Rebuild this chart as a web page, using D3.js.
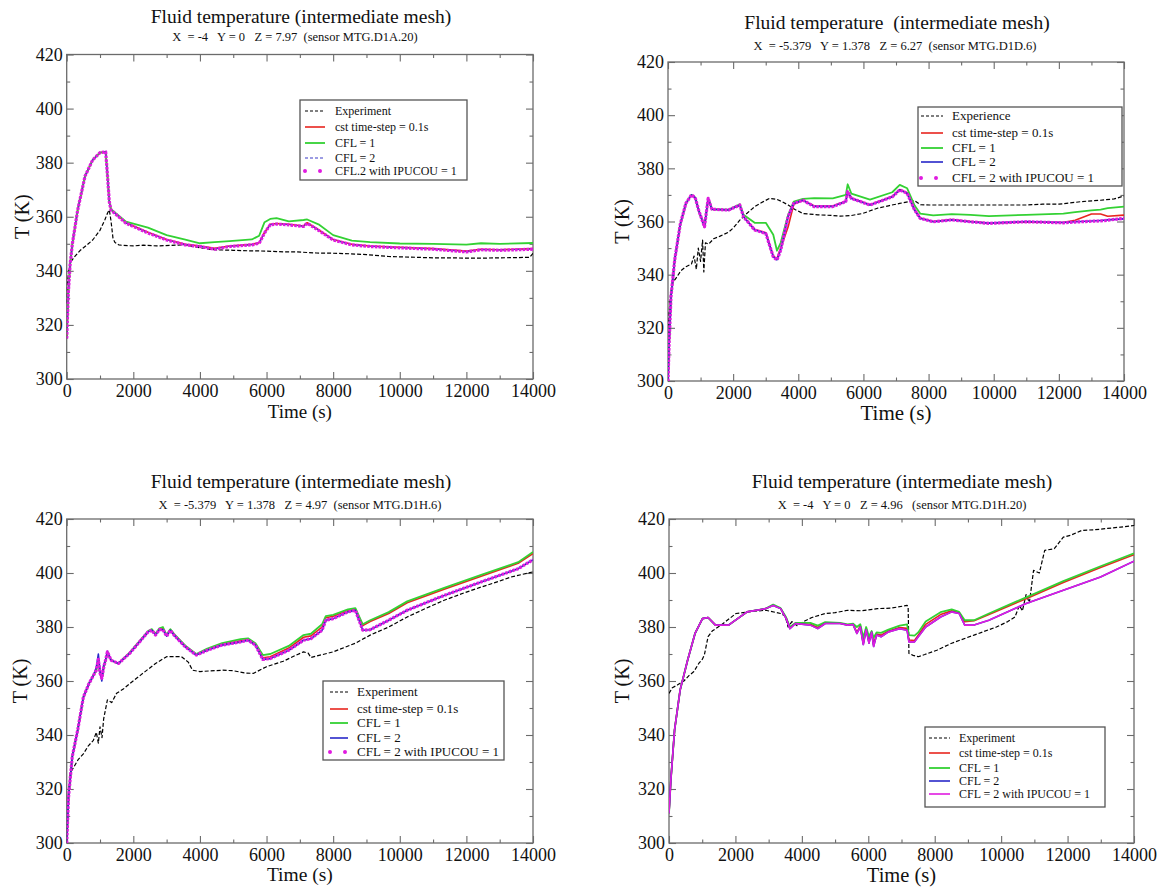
<!DOCTYPE html>
<html>
<head>
<meta charset="utf-8">
<script src="https://cdn.jsdelivr.net/npm/d3@7"></script>
<style>
  body { margin: 0; background: #fff; }
  svg { font-family: "Liberation Serif", "Times New Roman", serif; }
  text { white-space: pre; }
</style>
</head>
<body>
<svg id="chart" width="1163" height="888"></svg>
<script>
// axis ticks shared by all four plots
const xTicks = [0, 2000, 4000, 6000, 8000, 10000, 12000, 14000];
const xMinor = [1000, 3000, 5000, 7000, 9000, 11000, 13000];
const yTicks = [300, 320, 340, 360, 380, 400, 420];
const yMinor = [310, 330, 350, 370, 390, 410];

// ---- plot 1 : sensor MTG.D1A.20
const p1Time = [0, 50, 100, 170, 330, 550, 780, 1000, 1170, 1220, 1280, 1330, 1780, 2440, 3000, 3560, 4000, 4440, 4890, 5560, 5780, 5940, 6110, 6300, 6670, 7110, 7220, 7560, 8000, 8560, 9110, 10000, 11000, 12000, 12440, 13000, 14000];
const p1Ipucou = [315, 332, 342, 350, 362.5, 375, 381, 383.7, 384, 376, 365.5, 362.5, 357.6, 354, 351.4, 349.6, 349, 348, 349, 349.6, 350.2, 354, 357, 357.3, 357, 356.4, 357.6, 355, 351.4, 349.6, 349, 348.5, 348, 347, 347.8, 347.6, 348];
const p1Cfl1 = [315, 332, 342, 350, 362.5, 375, 381, 383.7, 384, 376, 365.5, 362.8, 358.2, 356, 353.2, 351.5, 350.2, 350.6, 351, 351.6, 353, 358, 359.2, 359.5, 358.3, 358.8, 359, 357.2, 353.2, 351.2, 350.6, 350.1, 350, 349.7, 350.2, 350, 350.3];
const p1Cst = [315, 332, 342, 350, 362.5, 375, 381, 383.7, 384, 376, 365.5, 362.6, 357.8, 354.3, 351.6, 349.8, 349.2, 348.3, 349.2, 349.8, 350.4, 354.2, 357.2, 357.5, 357.2, 356.6, 357.8, 355.2, 351.6, 349.8, 349.2, 348.7, 348.2, 347.3, 348, 347.8, 348.2];
const p1Cfl2 = [315, 332, 342, 350, 362.5, 375, 381, 383.7, 384, 376, 365.5, 362.5, 357.7, 354.1, 351.5, 349.7, 349.1, 348.1, 349.1, 349.7, 350.3, 354.1, 357.1, 357.4, 357.1, 356.5, 357.7, 355.1, 351.5, 349.7, 349.1, 348.6, 348.1, 347.1, 347.9, 347.7, 348.1];
const p1ExpTime = [0, 20, 60, 110, 220, 400, 600, 780, 1000, 1150, 1230, 1280, 1330, 1390, 1450, 1560, 1700, 2000, 2300, 2700, 3100, 3556, 4000, 4444, 5000, 5500, 6000, 6500, 6889, 7500, 8000, 8500, 9000, 9667, 10500, 11000, 11500, 12000, 12444, 13000, 13500, 13900, 14000];
const p1Exp = [328, 335, 340, 343, 345, 347.5, 349.5, 351.4, 355, 359, 361.5, 362.5, 358.5, 352, 350.5, 349.6, 349.4, 349.2, 349.5, 349.2, 349.4, 349.6, 348.5, 347.8, 347.6, 347.4, 347.3, 347, 347, 346.6, 346.5, 346.3, 346, 345.3, 345, 344.8, 344.8, 344.7, 344.7, 344.8, 344.9, 345, 346.5];

// ---- plot 2 : sensor MTG.D1D.6
const p2Time = [0, 34, 91, 205, 377, 548, 720, 834, 948, 1062, 1120, 1233, 1348, 1861, 2204, 2318, 2661, 3003, 3232, 3346, 3460, 3689, 3860, 4145, 4488, 5059, 5459, 5516, 5630, 6201, 6886, 7115, 7343, 7572, 7743, 8143, 8713, 9284, 9855, 10997, 12139, 12500, 13000, 13281, 13500, 14000];
const p2Ipucou = [300, 314, 331.6, 345.5, 359, 366.8, 370, 369, 364, 360, 358, 368.7, 364.6, 364.3, 366.2, 361.8, 356.8, 355.5, 346.7, 345.5, 349.2, 361.8, 366.8, 368, 365.6, 365.6, 367.5, 371.2, 368.7, 366.2, 369.3, 371.9, 370.6, 364.3, 361.2, 359.9, 360.6, 359.9, 359.3, 359.9, 359.5, 359.8, 360.1, 360.2, 360.5, 361.2];
const p2Cfl1 = [300, 314, 331.6, 345.5, 359, 366.8, 370, 369, 364, 360, 358, 368.7, 364.6, 364.5, 366.5, 362.5, 359.5, 359.5, 355, 349, 352, 362.5, 367.5, 368.5, 368.8, 368.7, 370, 374, 370.5, 368.2, 371, 373.8, 372.5, 366, 363, 362.3, 362.8, 362.5, 362, 362.5, 363, 363.5, 364.2, 364.5, 365, 365.6];
const p2Cst = [300, 314, 331.6, 345.5, 359, 366.8, 370, 369, 364, 360, 358, 368.7, 364.6, 364.3, 366.2, 361.8, 357, 355.8, 347, 346, 350, 358, 366.5, 368, 365.8, 365.8, 367.6, 371.2, 368.8, 366.3, 369.4, 372, 370.7, 364.4, 361.3, 360, 360.7, 360, 359.4, 359.8, 359.6, 360.5, 362.8, 362.8, 362, 362.4];
const p2Cfl2 = [300, 314, 331.6, 345.5, 359, 366.8, 370, 369, 364, 360, 358, 368.7, 364.6, 364.3, 366.2, 361.8, 356.9, 355.6, 346.8, 345.6, 349.3, 361.8, 366.8, 368, 365.7, 365.7, 367.5, 371.2, 368.7, 366.2, 369.3, 371.9, 370.6, 364.3, 361.2, 359.9, 360.6, 359.9, 359.4, 360, 359.6, 359.9, 360.2, 360.4, 360.6, 361];
const p2ExpTime = [0, 30, 80, 150, 263, 400, 550, 720, 800, 870, 930, 1000, 1062, 1100, 1150, 1250, 1400, 1600, 1861, 2000, 2204, 2400, 2661, 2900, 3118, 3346, 3500, 3689, 3900, 4145, 4600, 5000, 5288, 5600, 5973, 6430, 6800, 7115, 7400, 7572, 7750, 8029, 8713, 9500, 10997, 11500, 12000, 12710, 13281, 13700, 14000];
const p2Exp = [302, 325, 333, 337, 339, 341.5, 343, 344, 347, 342, 350, 345, 353, 341, 352, 351.5, 353.5, 354.5, 356, 357.5, 360.5, 362.8, 365.6, 367.3, 368.7, 368.3, 367.5, 366.2, 364.5, 363, 362.5, 362.3, 362, 362.2, 363, 365, 366, 366.8, 367.5, 367.8, 366.3, 366.2, 366.2, 366.2, 366.2, 366.5, 366.5, 367.5, 368, 368.5, 369.6];

// ---- plot 3 : sensor MTG.D1H.6
const p3Time = [0, 55, 167, 333, 500, 667, 800, 889, 950, 1000, 1055, 1110, 1167, 1222, 1333, 1555, 1889, 2444, 2555, 2667, 2780, 2889, 3000, 3111, 3222, 3555, 3889, 4222, 4667, 5222, 5444, 5667, 5889, 6111, 6667, 7111, 7333, 7667, 7778, 8000, 8444, 8667, 8889, 9111, 9667, 10222, 11333, 12444, 13555, 14000];
const p3Ipucou = [300, 317, 332, 342, 354, 359, 362, 364, 368, 363, 361, 365, 367.7, 370.8, 367.7, 366.5, 370.2, 378.2, 378.8, 377, 379, 379, 376.6, 378.8, 377, 372.7, 369.6, 371.4, 373.3, 374.5, 375.1, 373.3, 368, 368.3, 371.4, 375.1, 375.7, 378.8, 382.5, 383.1, 385.6, 386.2, 378.8, 379, 382.5, 386.2, 391.7, 396.7, 401.6, 404.9];
const p3Cfl1 = [300, 317, 332, 342, 354, 359, 362, 364, 368, 363, 361, 365, 367.7, 370.8, 367.7, 366.5, 370.5, 378.5, 379.2, 377.5, 379.5, 380, 377, 379.2, 377.5, 373.2, 370, 372, 374, 375.5, 375.8, 374, 369.6, 370, 373, 377, 377.5, 381, 384, 384.5, 386.5, 387, 381, 382.5, 385.5, 389.5, 394.5, 399.3, 404, 407.8];
const p3Cst = [300, 317, 332, 342, 354, 359, 362, 364, 368, 363, 361, 365, 367.7, 370.8, 367.7, 366.5, 370.3, 378.3, 379, 377.2, 379.2, 379.5, 376.8, 379, 377.2, 373, 369.8, 371.6, 373.6, 374.9, 375.4, 373.6, 368.6, 369, 372.2, 376.2, 376.7, 380, 383.4, 384, 386, 386.6, 380.5, 382, 385, 389, 394, 398.8, 403.6, 407.2];
const p3Cfl2 = [300, 317, 332, 342, 354, 359, 362, 365, 370, 364, 360, 366, 367.7, 371, 367.7, 366.5, 370.2, 378.2, 378.8, 377, 379, 379, 376.6, 378.8, 377, 372.7, 369.6, 371.4, 373.3, 374.5, 375.1, 373.3, 368, 368.3, 371.4, 375.1, 375.7, 378.8, 382.5, 383.1, 385.6, 386.2, 378.8, 379, 382.5, 386.2, 391.7, 396.7, 401.6, 404.9];
const p3ExpTime = [0, 50, 110, 222, 350, 500, 650, 800, 889, 950, 1000, 1060, 1110, 1222, 1350, 1500, 1700, 1889, 2200, 2667, 3000, 3444, 3650, 3778, 4000, 4667, 5000, 5333, 5600, 6000, 6500, 6889, 7111, 7250, 7333, 8000, 8667, 9111, 9667, 10222, 10800, 11333, 11900, 12444, 13000, 13333, 14000];
const p3Exp = [300, 318, 326, 328.3, 331, 333, 336, 338, 341, 337, 343, 339, 346, 353, 352, 355.5, 357, 359, 362, 366.5, 369, 369, 367, 364, 363.5, 364, 363.8, 363, 362.8, 365.3, 367.3, 369.6, 370.8, 370.3, 368.7, 370.8, 374, 377, 380, 383.7, 387, 389.9, 392.5, 394.8, 397, 398.5, 400.4];

// ---- plot 4 : sensor MTG.D1H.20
const p4Time = [0, 56, 168, 336, 560, 784, 1008, 1176, 1400, 1792, 2352, 2912, 3136, 3360, 3528, 3640, 3808, 4256, 4480, 4704, 5152, 5376, 5544, 5656, 5760, 5850, 5936, 6020, 6100, 6160, 6250, 6384, 6608, 6944, 7168, 7224, 7392, 7504, 7728, 8176, 8512, 8736, 8904, 9184, 9632, 10752, 11872, 12992, 14000];
const p4Ipucou = [311, 323.4, 341.9, 356.7, 367.7, 377.6, 383.1, 383.5, 380.7, 380.7, 385.6, 386.8, 388, 386.8, 383.1, 379.4, 381.3, 380.7, 379.4, 381.3, 381.3, 380.7, 380.9, 377.6, 380, 373.5, 379, 374, 378, 372.8, 377, 376.4, 378.2, 379.4, 378.8, 374.5, 374.5, 376.4, 380, 383.7, 385.6, 385, 380.7, 380.7, 382.5, 388.7, 393.6, 398.5, 404.4];
const p4Cfl1 = [311, 323.4, 341.9, 356.7, 367.7, 377.6, 383.1, 383.5, 380.7, 380.7, 385.6, 386.8, 388.3, 387, 383.5, 380, 381.5, 381.5, 380.5, 381.8, 381.5, 381, 381.2, 380, 381, 376, 380, 376.5, 378.5, 376, 378, 377.8, 379, 380.5, 381, 377, 376.8, 378, 382, 385.5, 386.5, 385.6, 382.5, 382.5, 385, 391, 397, 402.5, 407.3];
const p4Cst = [311, 323.4, 341.9, 356.7, 367.7, 377.6, 383.1, 383.5, 380.7, 380.7, 385.6, 386.8, 388.1, 386.9, 383.3, 379.6, 381.4, 381, 379.8, 381.5, 381.4, 380.8, 381, 378, 380.4, 374, 379.4, 374.6, 378.2, 373.5, 377.4, 377, 378.5, 379.8, 379.5, 375.2, 375, 377, 381, 384.6, 386, 385.3, 382, 382.3, 384.6, 390.5, 396.5, 402, 406.8];
const p4Cfl2 = [311, 323.4, 341.9, 356.7, 367.7, 377.6, 383.1, 383.5, 380.7, 380.7, 385.6, 386.8, 388, 386.8, 383.1, 379.4, 381.3, 380.7, 379.4, 381.3, 381.3, 380.7, 380.9, 377.6, 380, 373.5, 379, 374, 378, 372.8, 377, 376.4, 378.2, 379.4, 378.8, 374.5, 374.5, 376.4, 380, 383.7, 385.6, 385, 380.7, 380.7, 382.5, 388.7, 393.6, 398.5, 404.4];
const p4ExpTime = [0, 100, 250, 448, 600, 750, 896, 1000, 1064, 1120, 1176, 1300, 1568, 2016, 2500, 2912, 3360, 3500, 3584, 3700, 3850, 4032, 4300, 4704, 5000, 5376, 5800, 6272, 6700, 7168, 7200, 7224, 7350, 7504, 7700, 8064, 8512, 9184, 9856, 10200, 10416, 10550, 10640, 10750, 10850, 10976, 11150, 11312, 11600, 11872, 12100, 12432, 12800, 13200, 13600, 14000];
const p4Exp = [355.4, 357.5, 358.5, 360, 362, 363.5, 366.5, 368, 369.6, 373, 376.4, 378.5, 380.7, 385, 385.8, 386.2, 385, 384, 380, 382, 380.5, 381.9, 383.5, 385, 385.3, 386.2, 386, 386.8, 387, 388, 387.5, 370.2, 369.5, 369, 369.8, 371.4, 374, 377, 380, 382, 383.7, 388, 386, 392, 389, 401, 400, 408.4, 409, 413.3, 414, 415.8, 416, 416.5, 417, 417.6];

// series styles
const expStyle = {color: '#000', width: 1.2, dash: '4,2'};
const cstStyle = {color: '#e8251e', width: 1.6};
const cfl1Style = {color: '#33d133', width: 1.8};
const cfl2Dashed = {color: '#3a3ac8', width: 1.2, dash: '3,2'};
const cfl2Solid = {color: '#2727c8', width: 1.6};
const ipuDotted = {color: '#e01be0', width: 3.2, dash: '2.6,1.2', legendDots: true};
const ipuSolid = {color: '#e01be0', width: 1.6};

const panels = [
  {
    left: 66.7, right: 533, top: 54.5, bottom: 379,
    title: 'Fluid temperature (intermediate mesh)', titleX: 301, titleY: 23,
    sub: 'X  = -4   Y = 0   Z = 7.97  (sensor MTG.D1A.20)', subX: 295, subY: 41,
    ylabX: 22, xlabY: 418, xlabSize: 19,
    series: [
      {name: 'Experiment', t: p1ExpTime, v: p1Exp, s: expStyle},
      {name: 'cst time-step = 0.1s', t: p1Time, v: p1Cst, s: cstStyle},
      {name: 'CFL = 1', t: p1Time, v: p1Cfl1, s: cfl1Style},
      {name: 'CFL = 2', t: p1Time, v: p1Cfl2, s: cfl2Dashed},
      {name: 'CFL.2 with IPUCOU = 1', t: p1Time, v: p1Ipucou, s: ipuDotted}
    ],
    legend: {x0: 300, y0: 100, x1: 467, y1: 180, sx0: 305, sx1: 325, tx: 335, rows: [111, 127, 143, 158, 171], size: 12}
  },
  {
    left: 668, right: 1124, top: 62, bottom: 381,
    title: 'Fluid temperature  (intermediate mesh)', titleX: 897, titleY: 29,
    sub: 'X  = -5.379   Y = 1.378   Z = 6.27  (sensor MTG.D1D.6)', subX: 895, subY: 50,
    ylabX: 622, xlabY: 420, xlabSize: 21,
    series: [
      {name: 'Experience', t: p2ExpTime, v: p2Exp, s: expStyle},
      {name: 'cst time-step = 0.1s', t: p2Time, v: p2Cst, s: cstStyle},
      {name: 'CFL = 1', t: p2Time, v: p2Cfl1, s: cfl1Style},
      {name: 'CFL = 2', t: p2Time, v: p2Cfl2, s: cfl2Solid},
      {name: 'CFL = 2 with IPUCOU = 1', t: p2Time, v: p2Ipucou, s: ipuDotted}
    ],
    legend: {x0: 918, y0: 107, x1: 1122, y1: 186, sx0: 921, sx1: 943, tx: 952, rows: [116, 133, 148, 162, 178], size: 13}
  },
  {
    left: 66.7, right: 533, top: 519, bottom: 843,
    title: 'Fluid temperature (intermediate mesh)', titleX: 301, titleY: 488,
    sub: 'X  = -5.379   Y = 1.378   Z = 4.97  (sensor MTG.D1H.6)', subX: 300, subY: 509,
    ylabX: 20, xlabY: 881, xlabSize: 19.5,
    series: [
      {name: 'Experiment', t: p3ExpTime, v: p3Exp, s: expStyle},
      {name: 'cst time-step = 0.1s', t: p3Time, v: p3Cst, s: cstStyle},
      {name: 'CFL = 1', t: p3Time, v: p3Cfl1, s: cfl1Style},
      {name: 'CFL = 2', t: p3Time, v: p3Cfl2, s: cfl2Solid},
      {name: 'CFL = 2 with IPUCOU = 1', t: p3Time, v: p3Ipucou, s: ipuDotted}
    ],
    legend: {x0: 323, y0: 681, x1: 504, y1: 760, sx0: 330, sx1: 348, tx: 357, rows: [692, 709, 723, 738, 752], size: 13}
  },
  {
    left: 669, right: 1134, top: 519, bottom: 843,
    title: 'Fluid temperature (intermediate mesh)', titleX: 902, titleY: 488,
    sub: 'X  = -4   Y = 0   Z = 4.96   (sensor MTG.D1H.20)', subX: 902, subY: 509,
    ylabX: 622, xlabY: 882, xlabSize: 20.5,
    series: [
      {name: 'Experiment', t: p4ExpTime, v: p4Exp, s: expStyle},
      {name: 'cst time-step = 0.1s', t: p4Time, v: p4Cst, s: cstStyle},
      {name: 'CFL = 1', t: p4Time, v: p4Cfl1, s: cfl1Style},
      {name: 'CFL = 2', t: p4Time, v: p4Cfl2, s: cfl2Solid},
      {name: 'CFL = 2 with IPUCOU = 1', t: p4Time, v: p4Ipucou, s: ipuSolid}
    ],
    legend: {x0: 925, y0: 727, x1: 1105, y1: 807, sx0: 929, sx1: 950, tx: 959, rows: [738, 753, 768, 781, 794], size: 12}
  }
];

const svg = d3.select('#chart');
const frameColor = '#6b6b6b';
const plain = d3.format('d');

function styleAxis(g, size) {
  g.select('.domain').remove();
  g.selectAll('line').attr('stroke', frameColor).attr('stroke-width', 1.1);
  g.selectAll('text')
    .attr('font-family', '"Liberation Serif", "Times New Roman", serif')
    .attr('font-size', size)
    .attr('fill', '#111');
}

panels.forEach((p, i) => {
  let x = d3.scaleLinear().domain([0, 14000]).range([p.left, p.right]);
  let y = d3.scaleLinear().domain([300, 420]).range([p.bottom, p.top]);
  let g = svg.append('g');

  // frame
  g.append('rect')
    .attr('x', p.left).attr('y', p.top)
    .attr('width', p.right - p.left).attr('height', p.bottom - p.top)
    .attr('fill', 'none').attr('stroke', frameColor).attr('stroke-width', 1.3);

  // bottom axis with labels, then minor ticks
  g.append('g').attr('transform', 'translate(0,' + p.bottom + ')')
    .call(d3.axisBottom(x).tickValues(xTicks).tickFormat(plain).tickSizeInner(-7).tickSizeOuter(0).tickPadding(5))
    .call(a => styleAxis(a, 18));
  g.append('g').attr('transform', 'translate(0,' + p.bottom + ')')
    .call(d3.axisBottom(x).tickValues(xMinor).tickSizeInner(-3.5).tickSizeOuter(0).tickFormat(''))
    .call(a => styleAxis(a, 18));
  // top axis, ticks only
  g.append('g').attr('transform', 'translate(0,' + p.top + ')')
    .call(d3.axisTop(x).tickValues(xTicks).tickSizeInner(-7).tickSizeOuter(0).tickFormat(''))
    .call(a => styleAxis(a, 18));
  g.append('g').attr('transform', 'translate(0,' + p.top + ')')
    .call(d3.axisTop(x).tickValues(xMinor).tickSizeInner(-3.5).tickSizeOuter(0).tickFormat(''))
    .call(a => styleAxis(a, 18));

  // left axis with labels
  g.append('g').attr('transform', 'translate(' + p.left + ',0)')
    .call(d3.axisLeft(y).tickValues(yTicks).tickFormat(plain).tickSizeInner(-7).tickSizeOuter(0).tickPadding(4))
    .call(a => styleAxis(a, 18));
  g.append('g').attr('transform', 'translate(' + p.left + ',0)')
    .call(d3.axisLeft(y).tickValues(yMinor).tickSizeInner(-3.5).tickSizeOuter(0).tickFormat(''))
    .call(a => styleAxis(a, 18));
  // right axis, ticks only
  g.append('g').attr('transform', 'translate(' + p.right + ',0)')
    .call(d3.axisRight(y).tickValues(yTicks).tickSizeInner(-7).tickSizeOuter(0).tickFormat(''))
    .call(a => styleAxis(a, 18));
  g.append('g').attr('transform', 'translate(' + p.right + ',0)')
    .call(d3.axisRight(y).tickValues(yMinor).tickSizeInner(-3.5).tickSizeOuter(0).tickFormat(''))
    .call(a => styleAxis(a, 18));

  // clip for the curves
  let clipId = 'clip' + i;
  svg.append('clipPath').attr('id', clipId)
    .append('rect')
    .attr('x', p.left).attr('y', p.top)
    .attr('width', p.right - p.left).attr('height', p.bottom - p.top);

  let curves = g.append('g').attr('clip-path', 'url(#' + clipId + ')');
  p.series.forEach(s => {
    let pts = s.t.map((t, k) => [t, s.v[k]]);
    let line = d3.line().x(d => x(d[0])).y(d => y(d[1]));
    curves.append('path')
      .datum(pts)
      .attr('d', line)
      .attr('fill', 'none')
      .attr('stroke', s.s.color)
      .attr('stroke-width', s.s.width)
      .attr('stroke-dasharray', s.s.dash || null)
      .attr('stroke-linejoin', 'round');
  });

  // titles
  g.append('text').attr('x', p.titleX).attr('y', p.titleY)
    .attr('text-anchor', 'middle').attr('font-size', 19.5).attr('fill', '#111')
    .text(p.title);
  g.append('text').attr('x', p.subX).attr('y', p.subY)
    .attr('text-anchor', 'middle').attr('font-size', 12.5).attr('fill', '#111')
    .text(p.sub);

  // axis titles
  g.append('text')
    .attr('transform', 'translate(' + p.ylabX + ',' + ((p.top + p.bottom) / 2) + ') rotate(-90)')
    .attr('text-anchor', 'middle').attr('dy', '0.35em')
    .attr('font-size', 20).attr('fill', '#111')
    .text('T (K)');
  g.append('text').attr('x', (p.left + p.right) / 2).attr('y', p.xlabY)
    .attr('text-anchor', 'middle').attr('font-size', p.xlabSize).attr('fill', '#111')
    .text('Time (s)');

  // legend
  let L = p.legend;
  let lg = g.append('g');
  lg.append('rect')
    .attr('x', L.x0).attr('y', L.y0)
    .attr('width', L.x1 - L.x0).attr('height', L.y1 - L.y0)
    .attr('fill', '#fff').attr('stroke', '#555').attr('stroke-width', 1.3);
  p.series.forEach((s, k) => {
    let ry = L.rows[k];
    let sample = lg.append('line')
      .attr('x1', L.sx0).attr('x2', L.sx1)
      .attr('y1', ry).attr('y2', ry)
      .attr('stroke', s.s.color);
    if (s.s.legendDots) {
      sample.attr('stroke-width', 4).attr('stroke-linecap', 'round').attr('stroke-dasharray', '0,15');
    } else {
      sample.attr('stroke-width', Math.min(s.s.width, 1.8)).attr('stroke-dasharray', s.s.dash ? '3,2' : null);
    }
    lg.append('text')
      .attr('x', L.tx).attr('y', ry).attr('dy', '0.33em')
      .attr('font-size', L.size).attr('fill', '#111')
      .text(s.name);
  });
});
</script>
</body>
</html>
